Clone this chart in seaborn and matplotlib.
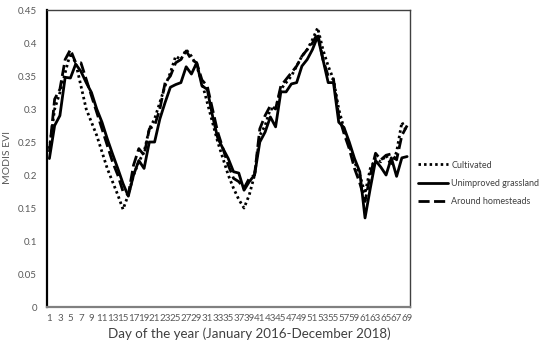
import numpy as np
import pandas as pd
import seaborn as sns
import matplotlib
matplotlib.use("Agg")
import matplotlib.pyplot as plt

days = list(range(1, 70))
cultivated = [0.24, 0.30, 0.325, 0.355, 0.385, 0.37, 0.335, 0.30, 0.28, 0.26,
              0.235, 0.21, 0.19, 0.17, 0.148, 0.17, 0.20, 0.22, 0.235, 0.27,
              0.285, 0.31, 0.335, 0.355, 0.38, 0.375, 0.39, 0.38, 0.365, 0.34,
              0.31, 0.28, 0.25, 0.225, 0.20, 0.18, 0.163, 0.15, 0.17, 0.20,
              0.26, 0.275, 0.30, 0.30, 0.33, 0.34, 0.35, 0.365, 0.38, 0.39,
              0.405, 0.423, 0.39, 0.365, 0.345, 0.30, 0.27, 0.245, 0.22, 0.20,
              0.172, 0.21, 0.225, 0.22, 0.23, 0.215, 0.235, 0.28, 0.265]
unimproved = [0.225, 0.275, 0.29, 0.348, 0.347, 0.368, 0.357, 0.34, 0.325, 0.30,
              0.28, 0.255, 0.232, 0.21, 0.187, 0.168, 0.20, 0.222, 0.21, 0.25,
              0.25, 0.285, 0.31, 0.333, 0.337, 0.34, 0.364, 0.353, 0.37, 0.335,
              0.33, 0.29, 0.256, 0.24, 0.225, 0.205, 0.203, 0.177, 0.19, 0.20,
              0.25, 0.265, 0.288, 0.273, 0.326, 0.326, 0.338, 0.34, 0.365, 0.375,
              0.39, 0.41, 0.375, 0.34, 0.34, 0.28, 0.272, 0.25, 0.225, 0.205,
              0.135, 0.18, 0.222, 0.212, 0.20, 0.226, 0.198, 0.226, 0.228]
homesteads = [0.235, 0.315, 0.33, 0.375, 0.39, 0.37, 0.37, 0.345, 0.32, 0.295,
              0.27, 0.245, 0.22, 0.20, 0.175, 0.17, 0.215, 0.24, 0.23, 0.27,
              0.275, 0.30, 0.34, 0.35, 0.37, 0.375, 0.388, 0.375, 0.37, 0.344,
              0.335, 0.30, 0.265, 0.24, 0.215, 0.195, 0.19, 0.18, 0.195, 0.20,
              0.27, 0.29, 0.305, 0.30, 0.335, 0.345, 0.355, 0.365, 0.38, 0.39,
              0.40, 0.415, 0.375, 0.35, 0.345, 0.29, 0.263, 0.24, 0.21, 0.188,
              0.16, 0.20, 0.233, 0.223, 0.23, 0.232, 0.223, 0.26, 0.275]
series_names = ["Cultivated", "Unimproved grassland", "Around homesteads"]
yticks = [0, 0.05, 0.1, 0.15, 0.2, 0.25, 0.3, 0.35, 0.4, 0.45]
ytick_labels = ["0", "0.05", "0.1", "0.15", "0.2", "0.25", "0.3", "0.35", "0.4", "0.45"]
xticks = list(range(1, 70, 2))

df = pd.DataFrame({
    "day": days * 3,
    "evi": cultivated + unimproved + homesteads,
    "series": [series_names[0]] * 69 + [series_names[1]] * 69 + [series_names[2]] * 69,
})

sns.set_style("white")
plt.rcParams["font.family"] = ["Lato", "DejaVu Sans"]

fig = plt.figure(figsize=(5.5, 3.45), dpi=100)
ax = fig.add_axes([0.085, 0.11, 0.66, 0.861])

dashes = {series_names[0]: (0.9, 1.1), series_names[1]: "", series_names[2]: (4, 1.6)}
sns.lineplot(data=df, x="day", y="evi", hue="series", style="series",
             palette={n: "black" for n in series_names}, dashes=dashes,
             linewidth=2.0, ax=ax, legend=False)

ax.set_xlim(0.5, 69.5)
ax.set_ylim(0, 0.45)
ax.set_yticks(yticks)
ax.set_yticklabels(ytick_labels)
ax.set_xticks(xticks)
ax.set_xticklabels([str(x) for x in xticks])
ax.tick_params(axis="both", length=0, labelsize=7, labelcolor="#595959")
ax.tick_params(axis="x", pad=5)
ax.tick_params(axis="y", pad=7)
ax.set_xlabel("Day of the year (January 2016-December 2018)", fontsize=9.6, color="#404040")
ax.xaxis.set_label_coords(0.557, -0.07)
ax.set_ylabel("MODIS EVI", fontsize=7.5, color="#595959")
ax.yaxis.set_label_coords(-0.095, 0.505)

for side in ["top", "right"]:
    ax.spines[side].set_visible(True)
    ax.spines[side].set_color("#404040")
    ax.spines[side].set_linewidth(1.0)
ax.spines["left"].set_color("black")
ax.spines["left"].set_linewidth(1.6)
ax.spines["bottom"].set_color("#808080")
ax.spines["bottom"].set_linewidth(1.6)

handles = ax.get_lines()[:3]
leg = ax.legend(handles, series_names, loc="center left", bbox_to_anchor=(1.0, 0.417),
                frameon=False, fontsize=6.5, handlelength=3.3, handletextpad=0.4,
                labelspacing=1.0, labelcolor="#404040")

fig.savefig("out.png", dpi=100)
